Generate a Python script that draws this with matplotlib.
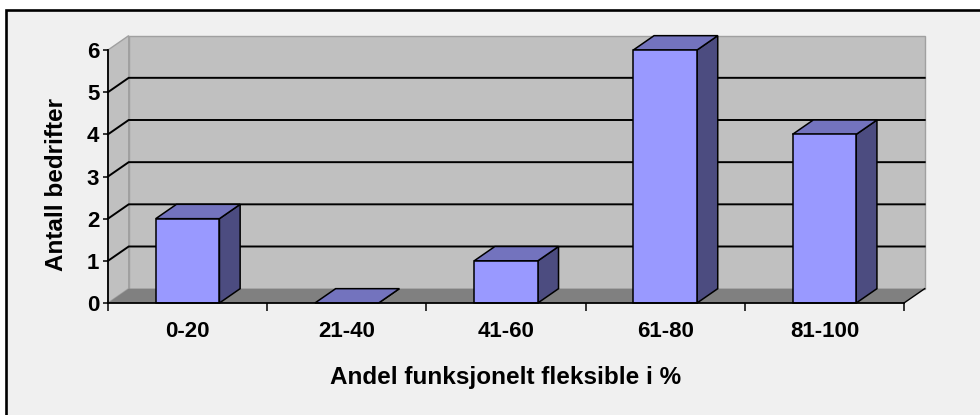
import matplotlib
matplotlib.use("Agg")
import matplotlib.pyplot as plt
from matplotlib.patches import Polygon, Rectangle

# Data
categories = ["0-20", "21-40", "41-60", "61-80", "81-100"]
values = [2, 0, 1, 6, 4]
y_ticks = [0, 1, 2, 3, 4, 5, 6]
x_label = "Andel funksjonelt fleksible i %"
y_label = "Antall bedrifter"

# Style
W, H = 980, 415
DPI = 100
font = "Liberation Sans"
wall_c = "#C0C0C0"
wall_edge = "#A0A0A0"
floor_c = "#808080"
front_c = "#9999FF"
top_c = "#7373BE"
side_c = "#4C4C80"
bar_w = 0.40
dx, dy = 0.13, 0.34          # oblique depth offset in data units
ymax = y_ticks[-1]
n = len(categories)

fig = plt.figure(figsize=(W / DPI, H / DPI), dpi=DPI)
fig.patch.set_facecolor("white")

# Chart area panel with black frame on left/top
panel = Rectangle((6 / W, -0.1), 1.1, (H - 10) / H + 0.1,
                  transform=fig.transFigure, facecolor="#F0F0F0",
                  edgecolor="black", linewidth=1.9, zorder=-10)
fig.add_artist(panel)

ax = fig.add_axes([108 / W, (H - 303) / H, (904 - 108) / W, 253 / H])
ax.set_zorder(1)
ax.set_xlim(0, n)
ax.set_ylim(0, ymax)
ax.set_facecolor("none")

def poly(pts, fc, ec="none", lw=0.0, z=1):
    ax.add_patch(Polygon(pts, closed=True, facecolor=fc, edgecolor=ec,
                         linewidth=lw, zorder=z, clip_on=False,
                         joinstyle="miter"))

# Walls and floor
poly([(dx, dy), (n + dx, dy), (n + dx, ymax + dy), (dx, ymax + dy)],
     wall_c, wall_edge, 1.0, z=1)
poly([(0, 0), (dx, dy), (dx, ymax + dy), (0, ymax)], wall_c, wall_edge, 1.0, z=1)
poly([(0, 0), (n, 0), (n + dx, dy), (dx, dy)], floor_c, z=1.5)
ax.plot([n, n + dx], [0, dy], color="black", lw=1.0, clip_on=False, zorder=2)

# Gridlines on back and side walls
for v in y_ticks[1:-1]:
    ax.plot([0, dx, n + dx], [v, v + dy, v + dy], color="black", lw=1.4,
            clip_on=False, zorder=2, solid_joinstyle="miter")

# 3D bars
for i, v in enumerate(values):
    x0 = i + 0.5 - bar_w / 2
    x1 = x0 + bar_w
    z = 3 + i
    poly([(x1, 0), (x1 + dx, dy), (x1 + dx, v + dy), (x1, v)], side_c, "black", 1.1, z)
    poly([(x0, v), (x1, v), (x1 + dx, v + dy), (x0 + dx, v + dy)], top_c, "black", 1.1, z)
    if v > 0:
        poly([(x0, 0), (x1, 0), (x1, v), (x0, v)], front_c, "black", 1.1, z)

# Axes lines and ticks
for s in ("top", "right"):
    ax.spines[s].set_visible(False)
for s in ("left", "bottom"):
    ax.spines[s].set_linewidth(1.3)
    ax.spines[s].set_zorder(20)

ax.set_yticks(y_ticks)
ax.set_yticklabels([str(t) for t in y_ticks])
ax.set_xticks(range(n + 1))
ax.set_xticklabels([])
ax.set_xticks([i + 0.5 for i in range(n)], minor=True)
ax.set_xticklabels(categories, minor=True)

ax.tick_params(axis="y", which="major", direction="out", length=3.8, width=1.1,
               pad=2.5, labelsize=16)
ax.tick_params(axis="x", which="major", direction="out", length=5.8, width=1.1)
ax.tick_params(axis="x", which="minor", length=0, pad=13, labelsize=16)
for lab in ax.get_yticklabels() + ax.get_xticklabels(minor=True):
    lab.set_fontfamily(font)
    lab.set_fontweight("bold")

ax.set_xlabel(x_label, fontfamily=font, fontweight="bold", fontsize=17.5)
ax.xaxis.set_label_coords(0.5, -0.25)
ax.set_ylabel(y_label, fontfamily=font, fontweight="bold", fontsize=17.5)
ax.yaxis.set_label_coords(-0.05, 0.47)

fig.savefig("out.png", dpi=DPI, facecolor=fig.get_facecolor())
